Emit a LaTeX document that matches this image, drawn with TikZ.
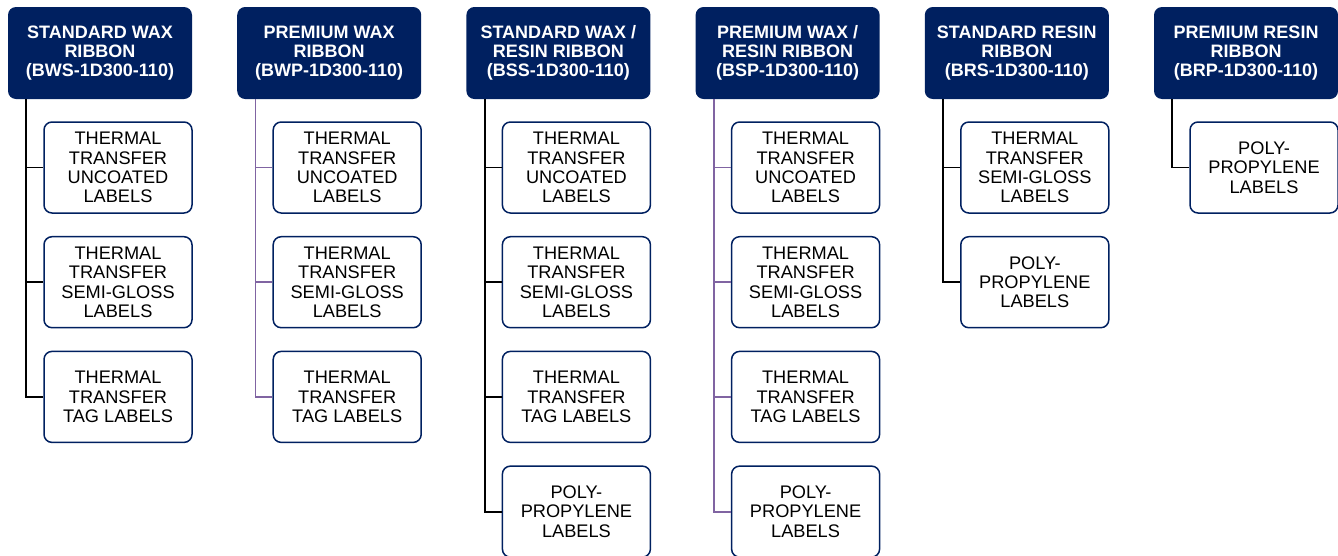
\documentclass[tikz,border=0pt]{standalone}
\usepackage{fontspec}
\setmainfont{Liberation Sans}
\usetikzlibrary{calc}
\definecolor{navy}{HTML}{002060}
\definecolor{lilac}{HTML}{8064A2}
\tikzset{
  head/.style={fill=navy, draw=none, rounded corners=8pt, minimum width=184pt, minimum height=92pt,
    inner sep=0pt, align=center, text=white, font=\fontsize{18}{19.2}\selectfont\bfseries},
  kid/.style={fill=white, draw=navy, line width=1.5pt, rounded corners=8pt, minimum width=148pt,
    minimum height=91pt, inner sep=0pt, align=center, text=black, font=\fontsize{18.2}{19.3}\selectfont},
  blk/.style={draw=black, line width=1.9pt},
  pur/.style={draw=lilac, line width=1.9pt}
}
\begin{document}
\begin{tikzpicture}[x=1pt,y=-1pt]
\useasboundingbox (0,0) rectangle (1338,555);
% headers
\node[head] (h1) at (100,53) {STANDARD WAX\\RIBBON\\(BWS-1D300-110)};
\node[head] (h2) at (329.2,53) {PREMIUM WAX\\RIBBON\\(BWP-1D300-110)};
\node[head] (h3) at (558.4,53) {STANDARD WAX /\\RESIN RIBBON\\(BSS-1D300-110)};
\node[head] (h4) at (787.6,53) {PREMIUM WAX /\\RESIN RIBBON\\(BSP-1D300-110)};
\node[head] (h5) at (1016.8,53) {STANDARD RESIN\\RIBBON\\(BRS-1D300-110)};
\node[head] (h6) at (1246,53) {PREMIUM RESIN\\RIBBON\\(BRP-1D300-110)};
% trunk tops
\foreach \i in {1,...,6} { \coordinate (t\i) at ($(h\i.south west)+(18.5,0)$); }
% children col 1
\node[kid] (c1a) at (118,167.5) {THERMAL\\TRANSFER\\UNCOATED\\LABELS};
\node[kid] (c1b) at (118,282.2) {THERMAL\\TRANSFER\\SEMI-GLOSS\\LABELS};
\node[kid] (c1c) at (118,396.9) {THERMAL\\TRANSFER\\TAG LABELS};
% col 2
\node[kid] (c2a) at (347.2,167.5) {THERMAL\\TRANSFER\\UNCOATED\\LABELS};
\node[kid] (c2b) at (347.2,282.2) {THERMAL\\TRANSFER\\SEMI-GLOSS\\LABELS};
\node[kid] (c2c) at (347.2,396.9) {THERMAL\\TRANSFER\\TAG LABELS};
% col 3
\node[kid] (c3a) at (576.4,167.5) {THERMAL\\TRANSFER\\UNCOATED\\LABELS};
\node[kid] (c3b) at (576.4,282.2) {THERMAL\\TRANSFER\\SEMI-GLOSS\\LABELS};
\node[kid] (c3c) at (576.4,396.9) {THERMAL\\TRANSFER\\TAG LABELS};
\node[kid] (c3d) at (576.4,511.6) {POLY-\\PROPYLENE\\LABELS};
% col 4
\node[kid] (c4a) at (805.6,167.5) {THERMAL\\TRANSFER\\UNCOATED\\LABELS};
\node[kid] (c4b) at (805.6,282.2) {THERMAL\\TRANSFER\\SEMI-GLOSS\\LABELS};
\node[kid] (c4c) at (805.6,396.9) {THERMAL\\TRANSFER\\TAG LABELS};
\node[kid] (c4d) at (805.6,511.6) {POLY-\\PROPYLENE\\LABELS};
% col 5
\node[kid] (c5a) at (1034.8,167.5) {THERMAL\\TRANSFER\\SEMI-GLOSS\\LABELS};
\node[kid] (c5b) at (1034.8,282.2) {POLY-\\PROPYLENE\\LABELS};
% col 6
\node[kid] (c6a) at (1264,167.5) {POLY-\\PROPYLENE\\LABELS};
% connectors
\foreach \k in {a,b,c} { \draw[blk] (t1) |- (c1\k.west); }
\foreach \k in {a,b,c} { \draw[pur] (t2) |- (c2\k.west); }
\foreach \k in {a,b,c,d} { \draw[blk] (t3) |- (c3\k.west); }
\foreach \k in {a,b,c,d} { \draw[pur] (t4) |- (c4\k.west); }
\foreach \k in {a,b} { \draw[blk] (t5) |- (c5\k.west); }
\draw[blk] (t6) |- (c6a.west);
\end{tikzpicture}
\end{document}
